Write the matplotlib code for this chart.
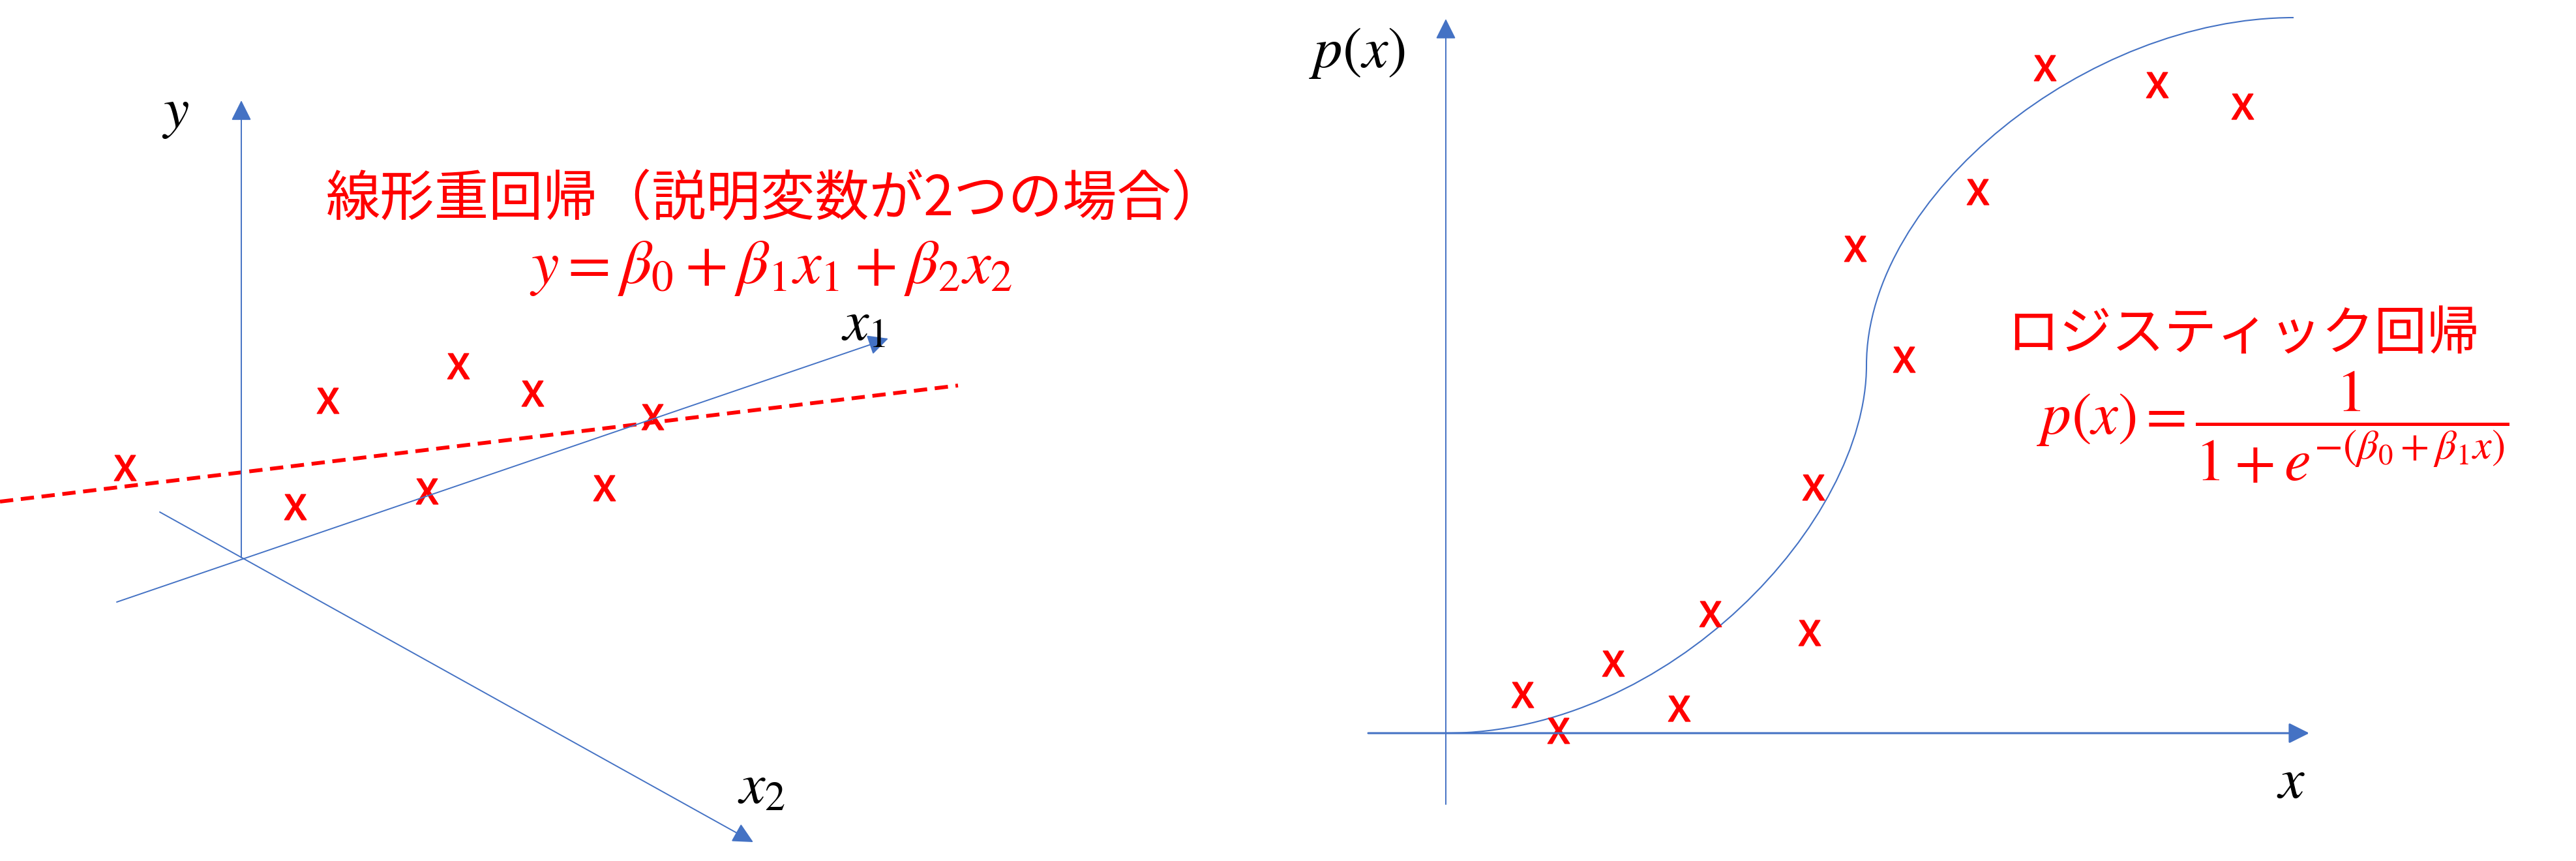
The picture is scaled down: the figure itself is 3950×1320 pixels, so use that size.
import matplotlib
matplotlib.use("Agg")
import numpy as np
import matplotlib.pyplot as plt
from matplotlib.path import Path
from matplotlib.patches import PathPatch
from matplotlib.textpath import TextPath
from matplotlib.font_manager import FontProperties

plt.rcParams['font.family'] = ['Noto Sans CJK JP', 'DejaVu Sans']
plt.rcParams['mathtext.fontset'] = 'stix'

BLUE = '#4472C4'
RED = '#FF0000'

# left panel: observed points (canvas pixel coords)
left_x = [191, 452, 502, 654, 702, 816, 926, 1000]
left_y = [717, 777, 614, 753, 561, 603, 748, 639]

# right panel: observed points
right_x = [3135, 3307, 3438, 3032, 2844, 2919, 2780, 2622, 2774, 2473, 2334, 2574, 2389]
right_y = [104, 130, 163, 294, 381, 551, 747, 941, 970, 1017, 1065, 1086, 1120]

# axes of the 3d sketch: (start, tip)
left_axes = [((370, 855), (370, 154)),   # y
             ((179, 923), (1362, 519)),  # x1
             ((245, 785), (1155, 1291))] # x2
fit_line_x = [0, 1469]
fit_line_y = [769, 591]

# logistic curve (bezier control points)
curve_pts = [(2217, 1124), (2560, 1124), (2862, 800), (2862, 560),
             (2862, 300), (3200, 27), (3517, 27)]


def x_marker():
    tp = TextPath((0, 0), 'x', size=1, prop=FontProperties(family='Noto Sans CJK JP'))
    v = tp.vertices.copy()
    c = (v.min(axis=0) + v.max(axis=0)) / 2
    return Path(v - c, tp.codes)


def arrow(ax, start, tip, lw=1.4):
    ax.annotate('', xy=tip, xytext=start,
                arrowprops=dict(arrowstyle='-|>,head_length=0.4,head_width=0.2',
                                mutation_scale=48, color=BLUE, lw=lw,
                                shrinkA=0, shrinkB=0))


fig = plt.figure(figsize=(39.5, 13.2), dpi=100)
ax = fig.add_axes([0, 0, 1, 1])
ax.set_xlim(0, 3950)
ax.set_ylim(1320, 0)
ax.axis('off')

mk = x_marker()

# ---- left: multiple linear regression
for s, t in left_axes:
    arrow(ax, s, t)
ax.plot(fit_line_x, fit_line_y, color=RED, lw=4.2, dashes=(3.5, 2))
ax.plot(left_x, left_y, ls='none', marker=mk, ms=28, color=RED)

ax.text(269, 170, r'$y$', fontsize=64, ha='center', va='center')
ax.text(1324, 496, r'$x_1$', fontsize=64, ha='center', va='center')
ax.text(1168, 1206, r'$x_2$', fontsize=64, ha='center', va='center')
ax.text(1190, 306, '線形重回帰（説明変数が2つの場合）', fontsize=60, color=RED,
        ha='center', va='center')
ax.text(1182, 406, r'$y=\beta_0+\beta_1x_1+\beta_2x_2$', fontsize=69, color=RED,
        ha='center', va='center')

# ---- right: logistic regression
arrow(ax, (2217, 1233), (2217, 29))
arrow(ax, (2098, 1124), (3541, 1124), lw=2.2)
codes = [Path.MOVETO] + [Path.CURVE4] * 6
ax.add_patch(PathPatch(Path(curve_pts, codes), fc='none', ec=BLUE, lw=1.5))
ax.plot(right_x, right_y, ls='none', marker=mk, ms=28, color=RED)

ax.text(2081, 78, r'$p(x)$', fontsize=64, ha='center', va='center')
ax.text(3513, 1198, r'$x$', fontsize=64, ha='center', va='center')
ax.text(3440, 513, 'ロジスティック回帰', fontsize=58, color=RED, ha='center', va='center')
ax.text(3485, 655, r'$p(x)=\dfrac{1}{1+e^{-(\beta_0+\beta_1x)}}$', fontsize=66,
        color=RED, ha='center', va='center')

fig.savefig('out.png', dpi=100)
